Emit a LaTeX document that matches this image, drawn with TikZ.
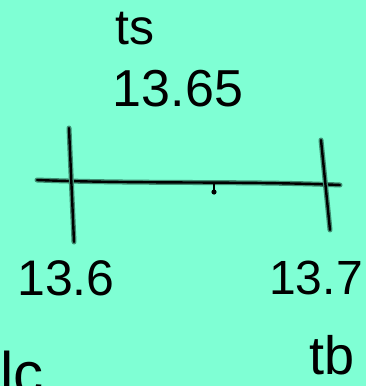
\documentclass[tikz,border=0pt]{standalone}
\usepackage{fontspec}
\setmainfont{Liberation Sans}
\definecolor{aqua}{HTML}{7FFFD4}
\definecolor{halo}{HTML}{3F8F73}
\tikzset{
  pen/.style={line width=2.4pt, black, line cap=round, line join=round,
    preaction={draw=halo, line width=5pt, line cap=round, line join=round}},
  hand/.style={anchor=base, inner sep=0pt, text=black}
}
\begin{document}
\begin{tikzpicture}[x=1pt, y=-1pt]
    \useasboundingbox (0,0) rectangle (366,386);
    \fill[aqua] (0,0) rectangle (366,386);
    \clip (0,0) rectangle (366,386);

    % number line and its ticks
    \coordinate (line_l) at (37,180);
    \coordinate (line_r) at (340,185);
    \coordinate (tick_l_top) at (69,128);
    \coordinate (tick_l_bot) at (74,242);
    \coordinate (tick_r_top) at (321,140);
    \coordinate (tick_r_bot) at (330,230);
    \coordinate (mid) at (214,182);
    \coordinate (mid_dot) at (214,192);

    \draw[pen] (line_l) .. controls (140,184) and (250,181) .. (line_r);
    \draw[pen] (tick_l_top) -- (tick_l_bot);
    \draw[pen] (tick_r_top) -- (tick_r_bot);
    \draw[line width=1.4pt] (mid) -- (mid_dot);
    \fill (mid_dot) circle (2.6pt);

    % labels
    \node[hand, font=\fontsize{50}{60}\selectfont] (ts) at (135,44) {ts};
    \node[hand, font=\fontsize{52}{60}\selectfont] (mid_val) at (178,106) {13.65};
    \node[hand, font=\fontsize{50}{60}\selectfont] (low_val) at (66,295) {13.6};
    \node[hand, font=\fontsize{48}{60}\selectfont] (high_val) at (316,294) {13.7};
    \node[hand, font=\fontsize{54}{60}\selectfont] (tb) at (332,374) {tb};
    \node[hand, anchor=base west, font=\fontsize{60}{60}\selectfont] (lc) at (0,394) {lc};
\end{tikzpicture}
\end{document}
